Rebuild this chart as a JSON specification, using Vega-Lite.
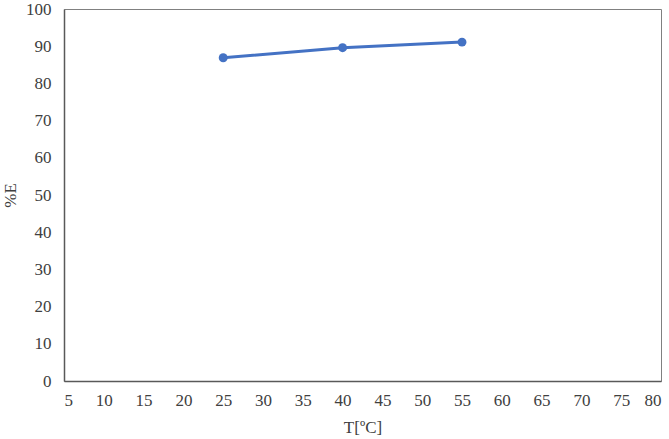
{
  "$schema": "https://vega.github.io/schema/vega-lite/v6.json",
  "width": 597,
  "height": 372,
  "autosize": {"type": "none"},
  "padding": {"left": 64, "top": 9, "right": 8, "bottom": 58},
  "background": "white",
  "config": {
    "view": {"stroke": "#808080", "strokeWidth": 1},
    "font": "Liberation Serif"
  },
  "data": {"values": [
    {"T": 25, "E": 86.9},
    {"T": 40, "E": 89.6},
    {"T": 55, "E": 91.1}
  ]},
  "encoding": {
    "x": {"field": "T", "type": "quantitative",
      "scale": {"domain": [5, 80], "nice": false, "zero": false},
      "axis": {"values": [5,10,15,20,25,30,35,40,45,50,55,60,65,70,75,80], "grid": false, "ticks": false,
        "domainColor": "#595959", "domainWidth": 1.5, "labelFont": "Liberation Serif", "labelFontSize": 17, "labelColor": "#404040", "labelPadding": 11,
        "title": "T[ºC]", "titleFont": "Liberation Serif", "titleFontSize": 17, "titleFontWeight": "normal", "titleColor": "#404040", "titlePadding": 11}},
    "y": {"field": "E", "type": "quantitative",
      "scale": {"domain": [0, 100], "nice": false},
      "axis": {"values": [0,10,20,30,40,50,60,70,80,90,100], "grid": false, "ticks": false,
        "domainColor": "#595959", "domainWidth": 1.5, "labelFont": "Liberation Serif", "labelFontSize": 17, "labelColor": "#404040", "labelPadding": 13,
        "title": "%E", "titleFont": "Liberation Serif", "titleFontSize": 17, "titleFontWeight": "normal", "titleColor": "#404040", "titlePadding": 6}}
  },
  "layer": [
    {"mark": {"type": "line", "color": "#4472C4", "strokeWidth": 3}},
    {"mark": {"type": "point", "filled": true, "color": "#4472C4", "size": 80, "opacity": 1}}
  ]
}
